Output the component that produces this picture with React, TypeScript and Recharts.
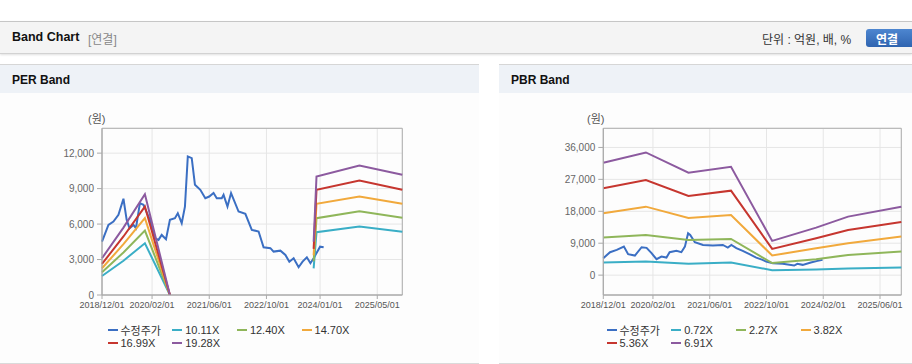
import { LineChart, Line, XAxis, YAxis, CartesianGrid, ReferenceArea } from "recharts"

const FONT = "'Liberation Sans', Arial, 'Noto Sans CJK KR', sans-serif"

// month index: 0 = 2018/12, 84 = 2025/12
const perTickMonths = [0, 14, 30, 46, 61, 77]
const perTickLabels = ["2018/12/01", "2020/02/01", "2021/06/01", "2022/10/01", "2024/01/01", "2025/05/01"]
const pbrTickMonths = [0, 14, 30, 46, 62, 78]
const pbrTickLabels = ["2018/12/01", "2020/02/01", "2021/06/01", "2022/10/01", "2024/02/01", "2025/06/01"]

const perYTicks = [0, 3000, 6000, 9000, 12000]
const pbrYTicks = [0, 9000, 18000, 27000, 36000]

const perNames = ["수정주가", "10.11X", "12.40X", "14.70X", "16.99X", "19.28X"]
const pbrNames = ["수정주가", "0.72X", "2.27X", "3.82X", "5.36X", "6.91X"]
const colors = ["#3b6fc3", "#3aaec6", "#8fb65a", "#f1a93c", "#c6362f", "#8c5a9f"]

// PER: adjusted price
const perPriceMonths = [0, 1.8, 3.2, 4.6, 6.0, 6.9, 7.7, 8.8, 9.5, 10.6, 11.6, 13.4, 14.8, 15.8, 16.7, 17.9, 19.0, 20.4, 21.2, 22.3, 23.2, 24.0, 25.1, 26.0, 27.5, 28.9, 30.0, 31.2, 32.1, 33.5, 34.0, 35.1, 36.1, 38.2, 40.1, 41.9, 43.8, 45.2, 47.1, 48.0, 49.9, 51.3, 52.4, 53.6, 55.0, 56.1, 57.3, 58.3, 59.2, 61.0, 62.0]
const perPrice = [4520, 5930, 6210, 6780, 8140, 6360, 5650, 5930, 5650, 7770, 7630, 6360, 4800, 4660, 5080, 4720, 6360, 6500, 6920, 6070, 7480, 11720, 11580, 9320, 8900, 8190, 8330, 8620, 8190, 8190, 8470, 7480, 8620, 7060, 6860, 5510, 5370, 4040, 3960, 3670, 3750, 3390, 2820, 3110, 2350, 2820, 3190, 2690, 3110, 4090, 4040]

// PER bands (null = gap)
const perBandMonths = [0, 6, 12, 19, 40, 59.2, 60, 72, 84]
const per1011 = [1610, 2900, 4380, 0, null, 2250, 5310, 5790, 5340]
const per1240 = [1920, 3600, 5450, 0, null, 2850, 6500, 7090, 6530]
const per1470 = [2260, 4300, 6500, 0, null, 3350, 7710, 8330, 7710]
const per1699 = [2630, 4950, 7480, 0, null, 3900, 8900, 9690, 8900]
const per1928 = [3110, 5700, 8530, 0, null, 4500, 10025, 10960, 10170]

// PBR: adjusted price
const pbrPriceMonths = [0, 1.9, 3.8, 5.8, 7.0, 8.9, 10.8, 12.2, 13.6, 15.0, 16.4, 17.8, 18.7, 20.6, 22.0, 23.0, 23.9, 24.5, 25.8, 28.1, 30.9, 33.7, 35.1, 36.1, 37.5, 39.3, 41.2, 43.1, 44.9, 45.9, 47.8, 50.6, 53.8, 54.7, 56.2, 58.5, 60.4, 61.8]
const pbrPrice = [4780, 6470, 7120, 8040, 5900, 5510, 7870, 7700, 6190, 4500, 5230, 4950, 6470, 6840, 6470, 8040, 11800, 11340, 9280, 8520, 8340, 8520, 7780, 8520, 7600, 6840, 5900, 4950, 4300, 3830, 3370, 3190, 2700, 3190, 2900, 3560, 4020, 4300]

// PBR bands
const pbrBandMonths = [0, 12, 24, 36, 47.6, 60, 69, 84]
const pbr072 = [3560, 3830, 3190, 3560, 1400, 1600, 1900, 2160]
const pbr227 = [10580, 11340, 9930, 10210, 3400, 4500, 5710, 6650]
const pbr382 = [17440, 19310, 16125, 16970, 5530, 7590, 9000, 10875]
const pbr536 = [24470, 26810, 22310, 23810, 7400, 10400, 12740, 15000]
const pbr691 = [31690, 34590, 28875, 30560, 9650, 13400, 16500, 19310]

const toRows = (months: number[], cols: (number | null)[][]) =>
  months.map((m, i) => {
    const row: Record<string, number | null> = { m }
    cols.forEach((c, j) => (row["s" + j] = c[i]))
    return row
  })

const perPriceData = toRows(perPriceMonths, [perPrice])
const perBandData = toRows(perBandMonths, [per1011, per1240, per1470, per1699, per1928])
const pbrPriceData = toRows(pbrPriceMonths, [pbrPrice])
const pbrBandData = toRows(pbrBandMonths, [pbr072, pbr227, pbr382, pbr536, pbr691])

interface BandChartProps {
  width: number
  yAxisWidth: number
  rightMargin: number
  tickMonths: number[]
  tickLabels: string[]
  yTicks: number[]
  yDomain: [number, number]
  priceData: Record<string, number | null>[]
  bandData: Record<string, number | null>[]
}

function BandChart({ width, yAxisWidth, rightMargin, tickMonths, tickLabels, yTicks, yDomain, priceData, bandData }: BandChartProps) {
  return (
    <LineChart width={width} height={240} margin={{ top: 35.3, right: rightMargin, left: 0, bottom: 8 }}>
      <CartesianGrid stroke="#e6e6e6" />
      <XAxis
        dataKey="m"
        type="number"
        domain={[0, 84]}
        ticks={tickMonths}
        interval={0}
        tickFormatter={(v: number) => tickLabels[tickMonths.indexOf(v)] ?? ""}
        tick={{ fontSize: 9, fill: "#555", fontFamily: FONT }}
        tickSize={4}
        tickMargin={3}
        height={30}
        stroke="#aaa"
      />
      <YAxis
        type="number"
        domain={yDomain}
        ticks={yTicks}
        interval={0}
        allowDataOverflow
        tickFormatter={(v: number) => v.toLocaleString("en-US")}
        tick={{ fontSize: 10, fill: "#666", fontFamily: FONT }}
        tickSize={5}
        tickMargin={3}
        width={yAxisWidth}
        stroke="#aaa"
      />
      <ReferenceArea x1={0} x2={84} y1={yDomain[0]} y2={yDomain[1]} fill="none" stroke="#b0b0b0" strokeWidth={1} />
      <Line data={priceData} dataKey="s0" stroke={colors[0]} strokeWidth={2} dot={false} activeDot={false} isAnimationActive={false} />
      {[0, 1, 2, 3, 4].map((j) => (
        <Line
          key={j}
          data={bandData}
          dataKey={"s" + j}
          stroke={colors[j + 1]}
          strokeWidth={2}
          dot={false}
          activeDot={false}
          connectNulls={false}
          isAnimationActive={false}
        />
      ))}
    </LineChart>
  )
}

function LegendBox({ names }: { names: string[] }) {
  return (
    <div style={{ position: "absolute", left: 107.5, top: 258.5, width: 260, display: "flex", flexWrap: "wrap" }}>
      {names.map((n, i) => (
        <div key={n} style={{ width: 64.7, height: 13, display: "flex", alignItems: "center", fontSize: 11, color: "#333", whiteSpace: "nowrap" }}>
          <span style={{ display: "inline-block", width: 10, height: 2, background: colors[i], marginRight: 3 }} />
          {n}
        </div>
      ))}
    </div>
  )
}

function Panel({ left, width, title, names, children }: { left: number; width: number; title: string; names: string[]; children: React.ReactNode }) {
  return (
    <div style={{ position: "absolute", left, top: 64, width, height: 298, borderTop: "1px solid #d6d6d6", borderBottom: "1px solid #dadada", background: "#fdfdfd" }}>
      <div style={{ height: 28, background: "#eef2f7", boxSizing: "border-box", paddingTop: 2, display: "flex", alignItems: "center", paddingLeft: 12, fontWeight: "bold", fontSize: 12, color: "#111" }}>
        {title}
      </div>
      <div style={{ position: "absolute", left: 88, top: 45, fontSize: 11, color: "#555" }}>(원)</div>
      <div style={{ position: "absolute", left: 0, top: 28 }}>{children}</div>
      <LegendBox names={names} />
    </div>
  )
}

export default function App() {
  return (
    <div style={{ position: "relative", width: 912, height: 364, background: "#fff", fontFamily: FONT, overflow: "hidden" }}>
      <style>{"body{margin:0}"}</style>
      <div
        style={{
          position: "absolute",
          left: 0,
          top: 21,
          width: 912,
          height: 31,
          background: "#f4f4f4",
          borderTop: "1px solid #c6c6c6",
          borderBottom: "1px solid #d2d2d2",
          boxShadow: "0 1px 2px rgba(0,0,0,0.12)",
        }}
      >
        <span style={{ position: "absolute", left: 12, top: 8, fontSize: 12.5, fontWeight: "bold", color: "#111" }}>Band Chart</span>
        <span style={{ position: "absolute", left: 88, top: 8, fontSize: 12, color: "#888" }}>[연결]</span>
        <span style={{ position: "absolute", left: 762, top: 8, fontSize: 12, color: "#333" }}>단위 : 억원, 배, %</span>
        <div
          style={{
            position: "absolute",
            left: 866,
            top: 7,
            width: 50,
            height: 18,
            borderRadius: 3,
            background: "linear-gradient(#4d86d0, #2f64b0)",
            color: "#fff",
            fontSize: 12,
            fontWeight: "bold",
            display: "flex",
            alignItems: "center",
            paddingLeft: 10,
            boxSizing: "border-box",
          }}
        >
          연결
        </div>
      </div>
      <Panel left={0} width={479} title="PER Band" names={perNames}>
        <BandChart
          width={479}
          yAxisWidth={102}
          rightMargin={76.7}
          tickMonths={perTickMonths}
          tickLabels={perTickLabels}
          yTicks={perYTicks}
          yDomain={[0, 14100]}
          priceData={perPriceData}
          bandData={perBandData}
        />
      </Panel>
      <Panel left={499} width={413} title="PBR Band" names={pbrNames}>
        <BandChart
          width={413}
          yAxisWidth={104.3}
          rightMargin={10.7}
          tickMonths={pbrTickMonths}
          tickLabels={pbrTickLabels}
          yTicks={pbrYTicks}
          yDomain={[-5600, 41400]}
          priceData={pbrPriceData}
          bandData={pbrBandData}
        />
      </Panel>
    </div>
  )
}
